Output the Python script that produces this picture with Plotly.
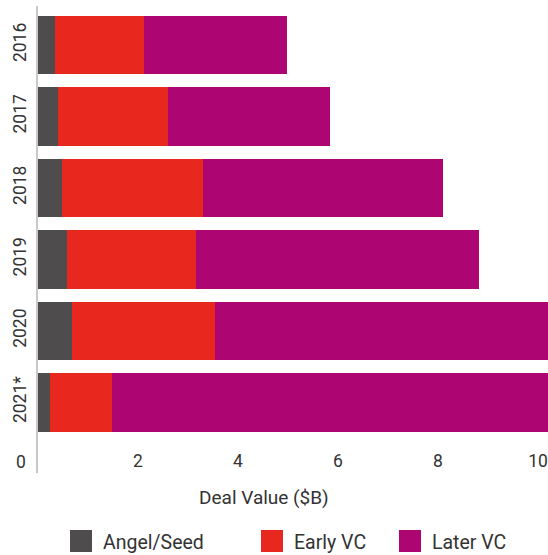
import plotly.graph_objects as go

# ---- data ----
years = ["2016", "2017", "2018", "2019", "2020", "2021*"]
angel_seed = [0.34, 0.40, 0.48, 0.58, 0.68, 0.24]
early_vc = [1.78, 2.20, 2.82, 2.58, 2.86, 1.24]
later_vc = [2.86, 3.24, 4.80, 5.66, 7.00, 9.00]
series_names = ["Angel/Seed", "Early VC", "Later VC"]
x_ticks = [2, 4, 6, 8, 10]
x_title = "Deal Value ($B)"

colors = ["#4e4c4d", "#e8281f", "#ad0571"]
text_color = "#333333"
FONT = "Roboto, sans-serif"

W, H = 548, 555
PLOT_X0, PLOT_X1 = 38, 548
PLOT_Y0, PLOT_Y1 = 6, 473
L, R, T, B = PLOT_X0, W - PLOT_X1, PLOT_Y0, H - PLOT_Y1
plot_w = PLOT_X1 - PLOT_X0
plot_h = PLOT_Y1 - PLOT_Y0


def px_x(px):
    return (px - PLOT_X0) / plot_w


def px_y(py):
    return (PLOT_Y1 - py) / plot_h


fig = go.Figure()
for name, vals, col in zip(series_names, [angel_seed, early_vc, later_vc], colors):
    fig.add_trace(go.Bar(
        y=years, x=vals, name=name, orientation="h",
        marker=dict(color=col, line=dict(width=0)),
        showlegend=False, hoverinfo="skip",
    ))

fig.update_layout(
    width=W, height=H,
    margin=dict(l=L, r=R, t=T, b=B, pad=0),
    barmode="stack",
    bargap=0.18,
    plot_bgcolor="white",
    paper_bgcolor="white",
    font=dict(family=FONT, color=text_color, size=17.5),
    xaxis=dict(
        range=[0, 10.2], tickvals=x_ticks, showgrid=False, zeroline=False,
        showline=False, ticks="", ticklabelposition="inside",
        tickfont=dict(size=17.5, color=text_color),
    ),
    yaxis=dict(
        type="category", categoryorder="array", categoryarray=years,
        range=[5.99, -0.546], showgrid=False, zeroline=False,
        showline=True, linecolor="#c8c8c8", linewidth=2,
        ticks="", tickangle=-90, tickfont=dict(size=17.5, color=text_color),
        ticklabelstandoff=3,
    ),
)

# "0" label sits left of the axis line in the reference
fig.add_annotation(text="0", xref="paper", yref="paper", x=px_x(21), y=px_y(462),
                   xanchor="center", yanchor="middle", showarrow=False,
                   font=dict(size=17.5, color=text_color))
# axis title
fig.add_annotation(text=x_title, xref="paper", yref="paper", x=px_x(264), y=px_y(497),
                   xanchor="center", yanchor="middle", showarrow=False,
                   font=dict(size=19, color=text_color))

# manual legend
legend_sq = [70, 261, 399]
for name, col, sx in zip(series_names, colors, legend_sq):
    fig.add_shape(type="rect", xref="paper", yref="paper",
                  x0=px_x(sx), x1=px_x(sx + 22), y0=px_y(552), y1=px_y(530),
                  fillcolor=col, line=dict(width=0))
    fig.add_annotation(text=name, xref="paper", yref="paper", x=px_x(sx + 31), y=px_y(542),
                       xanchor="left", yanchor="middle", showarrow=False,
                       font=dict(size=19.5, color=text_color))

fig.write_html(
    "out.html",
    config={"displayModeBar": False},
    post_script="document.body.style.margin='0';document.body.style.overflow='hidden';",
)
